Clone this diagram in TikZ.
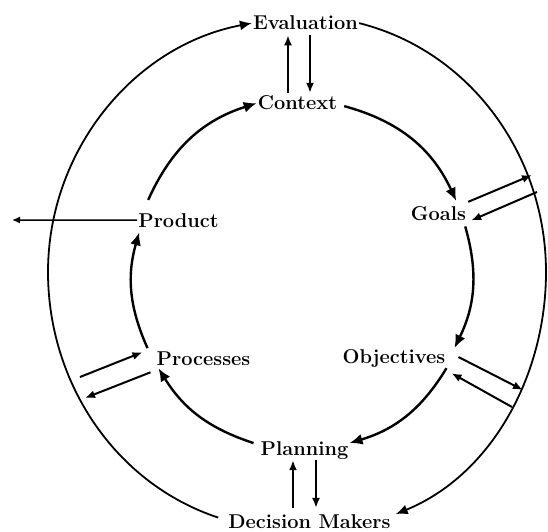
\documentclass[tikz,border=0pt]{standalone}
\usepackage{tikz}
\usetikzlibrary{arrows.meta, calc}

\begin{document}
\begin{tikzpicture}[
    x=1pt, y=1pt,
    stage/.style={inner sep=1pt, anchor=base, font=\fontsize{20}{24}\selectfont\bfseries},
    ring/.style={-{Latex[length=13pt,width=11pt]}, line width=2.4pt},
    rim/.style={-{Latex[length=12pt,width=10pt]}, line width=1.8pt},
    link/.style={-{Latex[length=10pt,width=8pt]}, line width=2pt}
]
\useasboundingbox (0,0) rectangle (548,531);

\node[stage] (eval) at (305.5,501) {Evaluation};
\node[stage] (context) at (297.5,421) {Context};
\node[stage] (goals) at (438.5,311) {Goals};
\node[stage] (product) at (178.5,304) {Product};
\node[stage] (objectives) at (394,168) {Objectives};
\node[stage] (processes) at (203.5,166) {Processes};
\node[stage] (planning) at (304.5,76) {Planning};
\node[stage] (makers) at (309.5,3) {Decision Makers};

\coordinate (rimW) at (48,259);
\coordinate (rimE) at (546,259);
\coordinate (exit) at (12,311);
\coordinate (goalsA) at (532,356);
\coordinate (goalsB) at (537,339);
\coordinate (objA) at (523,141);
\coordinate (objB) at (512,124);
\coordinate (procA) at (80,154);
\coordinate (procB) at (85,133);

\draw[ring] ([shift={(6,-3)}]context.east) to[bend left=25] ([shift={(-11,4)}]goals.north east);
\draw[ring] ([shift={(-2,-5)}]goals.south east) to[bend left=21] ([shift={(8,0)}]objectives.north east);
\draw[ring] (objectives.south east) to[bend left=21] ([shift={(0,7)}]planning.east);
\draw[ring] ([shift={(-6,7)}]planning.west) to[bend left=20] ([shift={(3,-2)}]processes.south west);
\draw[ring] ([shift={(-8,2)}]processes.north west) to[bend left=20] ([shift={(2,-4)}]product.south west);
\draw[ring] ([shift={(11,12)}]product.north west) to[bend left=24] (context.west);

\draw[rim] ([shift={(-9,3.5)}]makers.west) to[out=161.7, in=-90, looseness=0.94] (rimW)
    to[out=90, in=190.8, looseness=0.96] (eval.west);
\draw[rim] (eval.east) to[out=-14.1, in=90, looseness=0.95] (rimE)
    to[out=-90, in=22.3, looseness=0.93] ([shift={(4,7)}]makers.east);

\draw[link] ([shift={(-9.5,2)}]context.north) -- ([shift={(-17.5,-4)}]eval.south);
\draw[link] ([shift={(4.5,-4)}]eval.south) -- ([shift={(12.5,2)}]context.north);
\draw[link] ([shift={(-16.5,5)}]makers.north) -- ([shift={(-11.5,0)}]planning.south);
\draw[link] ([shift={(11.5,0)}]planning.south) -- ([shift={(6.5,5)}]makers.north);

\draw[link] ([shift={(1,3)}]goals.north east) -- (goalsA);
\draw[link] (goalsB) -- ([shift={(4,1)}]goals.south east);
\draw[link] ([shift={(12,1)}]objectives.east) -- (objA);
\draw[link] (objB) -- ([shift={(5,-5)}]objectives.south east);
\draw[link] (procA) -- ([shift={(-13,6)}]processes.west);
\draw[link] ([shift={(-5,-6)}]processes.south west) -- (procB);
\draw[link, line width=1.5pt, -{Latex[length=8pt,width=7pt]}] (product.west) -- (exit);

\end{tikzpicture}
\end{document}
